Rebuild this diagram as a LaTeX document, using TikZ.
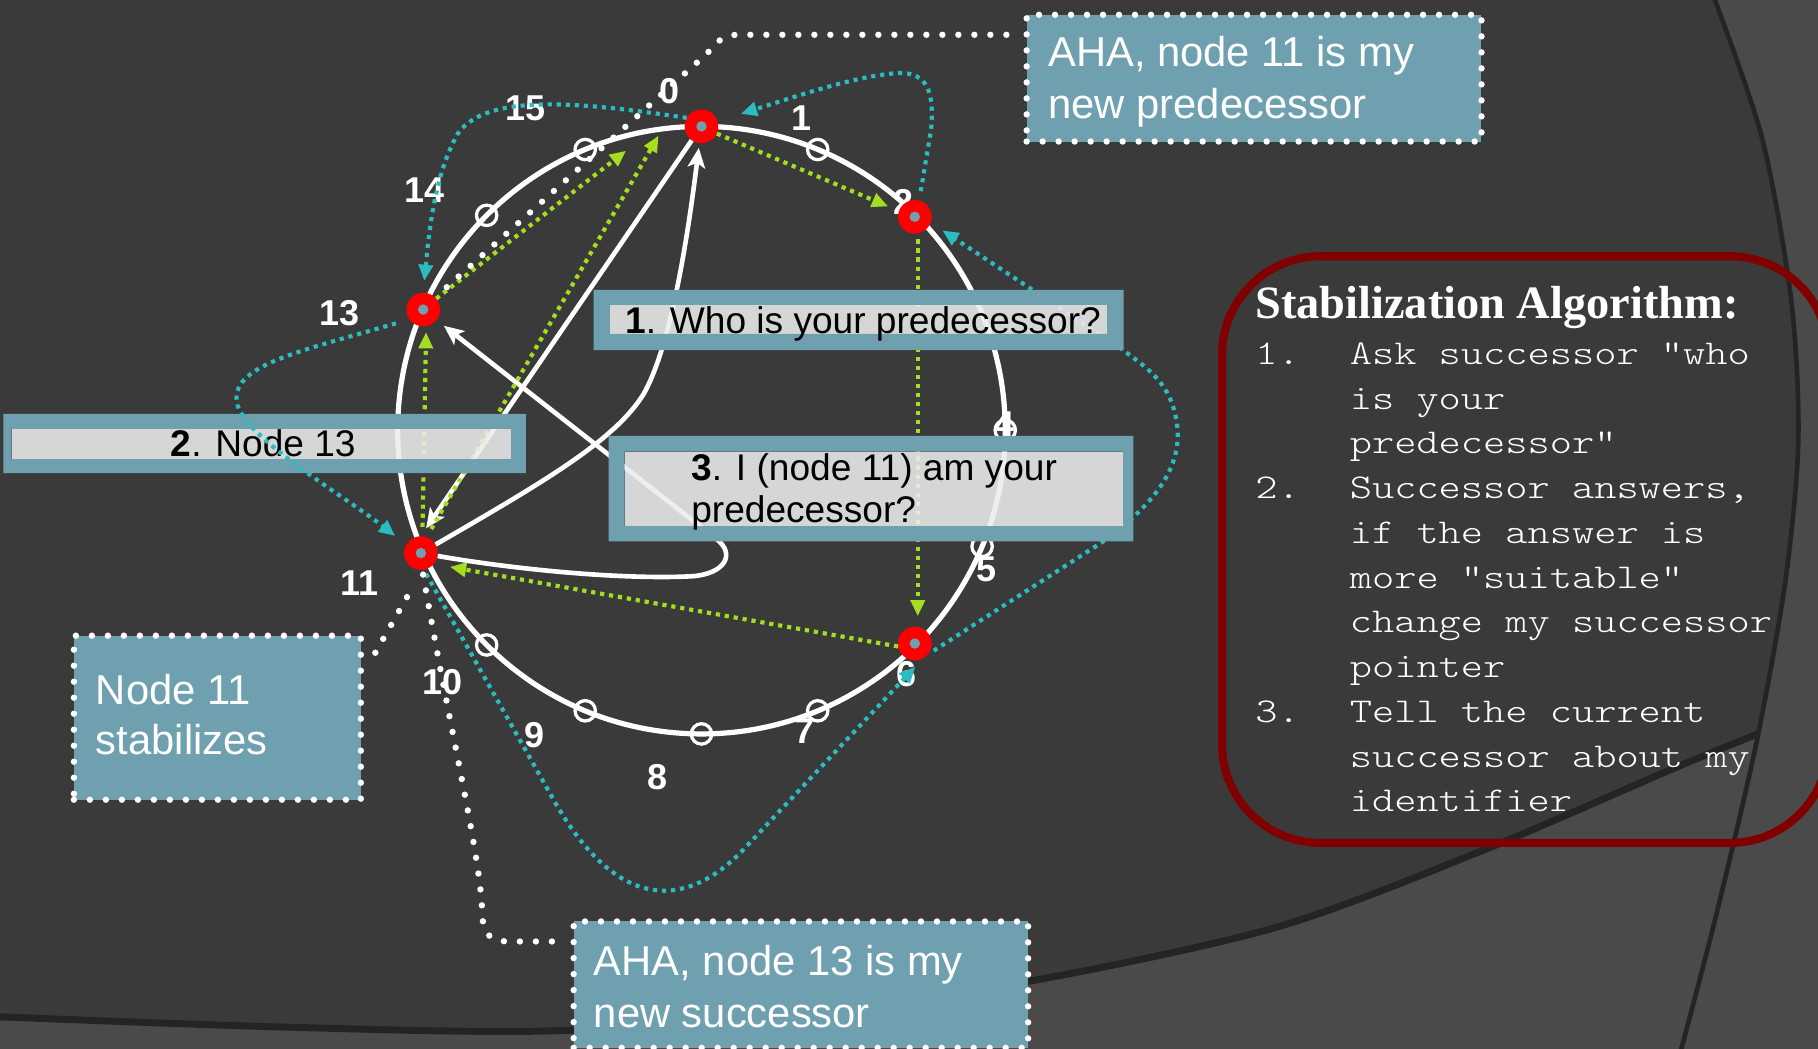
\documentclass[tikz,border=0pt]{standalone}
\usepackage{fontspec}
\usepackage{graphicx}
\setmainfont{Liberation Sans}
\newfontfamily\titlefont{Liberation Serif}
\usetikzlibrary{arrows.meta,calc}
\definecolor{bgc}{RGB}{58,58,58}
\definecolor{bgl}{RGB}{74,74,74}
\definecolor{bgline}{RGB}{36,36,36}
\definecolor{boxc}{RGB}{111,160,175}
\definecolor{grn}{RGB}{164,222,32}
\definecolor{tealc}{RGB}{42,188,190}
\definecolor{redb}{RGB}{128,0,0}
\definecolor{innerc}{RGB}{236,236,236}
\newcommand{\mtxt}[1]{\scalebox{1.217}[1]{#1}}
\tikzset{
 rn/.style={circle, fill=red, minimum size=29pt, inner sep=0pt,
   path picture={\fill[boxc] (path picture bounding box.center) circle[radius=4.5pt];}},
 mk/.style={draw=white, line width=2.8pt},
 lab/.style={text=white, font=\bfseries\fontsize{31}{31}\selectfont, inner sep=0pt},
 warrow/.style={draw=white, line width=4pt, -{Stealth[length=17pt,width=15pt,inset=4pt]}},
 gdot/.style={draw=grn, line width=3.6pt, dash pattern=on 3.6pt off 4.2pt, -{Triangle[length=14pt,width=12pt]}},
 tdot/.style={draw=tealc, line width=3.6pt, dash pattern=on 3.6pt off 4.2pt, -{Triangle[length=14pt,width=12pt]}},
 wdots/.style={draw=white, line width=5.5pt, dash pattern=on 0pt off 13.8pt, line cap=round},
 callout/.style={fill=boxc, draw=white, line width=5.5pt, dash pattern=on 0pt off 13.8pt, line cap=round, inner sep=0pt, anchor=north west},
 ctext/.style={text=white, font=\fontsize{36}{36}\selectfont, inner sep=0pt, anchor=base west},
 innerbox/.style={fill=innerc, fill opacity=0.88, inner sep=0pt, anchor=north west},
 btext/.style={text=black, font=\fontsize{32}{32}\selectfont, inner sep=0pt, anchor=base west},
 mono/.style={text=white, font=\ttfamily\fontseries{l}\fontsize{30}{30}\selectfont, inner sep=0pt, anchor=base west},
}
\begin{document}
\begin{tikzpicture}[x=1pt,y=-1pt]
\useasboundingbox (0,0) rectangle (1568,904.7);
% background
\fill[bgc] (0,0) rectangle (1568,904.7);
\fill[bgl] plot[smooth] coordinates {(0,877) (250,886) (480,889) (700,872) (884,847) (1100,800) (1280,733) (1450,660) (1568,612)} -- (1568,905) -- (0,905) -- cycle;
\draw[bgline, line width=6pt] plot[smooth] coordinates {(0,877) (250,886) (480,889) (700,872) (884,847) (1100,800) (1280,733) (1450,660) (1568,612)};
\fill[bgl] plot[smooth] coordinates {(1479,0) (1520,120) (1545,260) (1551,380) (1540,500) (1515,640) (1480,790) (1450,905)} -- (1568,905) -- (1568,0) -- cycle;
\draw[bgline, line width=4pt] plot[smooth] coordinates {(1479,0) (1520,120) (1545,260) (1551,380) (1540,500) (1515,640) (1480,790) (1450,905)};

% ring, markers, labels
\draw[white, line width=4.5pt] (605,371) circle[radius=262pt];
\foreach \k in {1,4,5,7,8,9,10,14,15}
  \draw[mk] ({605+262*cos(90-22.5*\k)},{371-262*sin(90-22.5*\k)}) circle[radius=8.8pt];
\node[lab] (l0) at (577,79) {0};
\node[lab] (l1) at (691,102) {1};
\node[lab] (l2) at (779,174) {2};
\node[lab] (l4) at (866,366) {4};
\node[lab] (l5) at (851,491) {5};
\node[lab] (l6) at (782,581) {6};
\node[lab] (l7) at (694,631) {7};
\node[lab] (l8) at (567,670) {8};
\node[lab] (l9) at (461,634) {9};
\node[lab] (l10) at (382,588) {10};
\node[lab] (l11) at (310,503) {11};
\node[lab] (l13) at (293,270) {13};
\node[lab] (l14) at (366,164) {14};
\node[lab] (l15) at (453,93) {15};

% red nodes
\node[rn] (n0) at (605,109) {};
\node[rn] (n2) at (789,187) {};
\node[rn] (n6) at (789,555) {};
\node[rn] (n11) at (363,477) {};
\node[rn] (n13) at (365,267) {};

% end points
\coordinate (g5e) at (540,130);
\coordinate (g6e) at (568,117);
\coordinate (w1s) at (868,30);
\coordinate (w2e) at (480,812);
\coordinate (w3s) at (351,515);
\coordinate (w3e) at (322,566);

% white arrows
\draw[warrow, shorten >=4pt] (n11) .. controls (470,415) and (530,380) .. (555,340) .. controls (575,305) and (590,230) .. (n0);
\draw[warrow, shorten >=8pt] (n0.235) -- (n11.north);
\draw[warrow, shorten >=8pt] (n11.-10) .. controls (450,492) and (540,500) .. (597,497) .. controls (625,495) and (635,478) .. (618,465) -- (n13);

% green successor pointers
\draw[gdot, shorten >=10pt] (n0.-25) -- (n2.160);
\draw[gdot, shorten <=5pt, shorten >=9pt] (n2.-80) -- (n6.80);
\draw[gdot, shorten >=14pt] (n6.190) -- (n11.-40);
\draw[gdot, shorten <=8pt, shorten >=5pt] (n11.85) -- (n13.-80);
\draw[gdot] (n13.40) -- (g5e);
\draw[gdot, shorten <=8pt] (n11.70) -- (g6e);

% teal predecessor pointers
\draw[tdot, shorten >=10pt] (n0.150) .. controls (500,88) and (420,80) .. (395,115) .. controls (375,150) and (370,200) .. (n13.north);
\draw[tdot, shorten <=8pt, shorten >=21pt] (n2.75) -- (803,112) .. controls (806,80) and (800,62) .. (775,63) .. controls (740,65) and (690,82) .. (n0);
\draw[tdot, shorten <=6pt, shorten >=12pt] (n6.-40) -- (950,468) .. controls (1000,432) and (1020,400) .. (1015,365) .. controls (1010,330) and (990,318) .. (966,300) -- (n2.-20);
\draw[tdot, shorten <=4pt, shorten >=10pt] (n11.-80) -- (477,689) .. controls (542,804) and (605,770) .. (640,734) -- (n6.-60);

% white dotted callout connectors
\draw[wdots, shorten >=10pt] (w1s) -- (635,30) .. controls (622,30) and (615,40) .. (610,46) -- (n13.45);
\draw[wdots, shorten <=4pt] (n11.-85) .. controls (390,640) and (415,740) .. (416,790) .. controls (417,808) and (425,812) .. (440,812) -- (w2e);
\draw[wdots] (w3s) -- (w3e);

% message boxes
\node[innerbox, minimum width=428.5pt, minimum height=24.5pt] (q1) at (526,263) {};
\fill[boxc, even odd rule] (512,250) rectangle (969,302) (q1.south west) rectangle (q1.north east);
\node[btext] (q1t) at (539,287.5) {{\bfseries 1}. Who is your predecessor?};

\node[innerbox, minimum width=430.5pt, minimum height=25.5pt] (q2) at (10,370) {};
\fill[boxc, even odd rule] (3,357) rectangle (453.5,408) (q2.south west) rectangle (q2.north east);
\node[btext] (q2t) at (147,394) {{\bfseries 2}. Node 13};

\node[innerbox, minimum width=429.6pt, minimum height=63.8pt] (q3) at (538.7,389.6) {};
\fill[boxc, even odd rule] (525,376) rectangle (977.5,467) (q3.south west) rectangle (q3.north east);
\node[btext] (q3a) at (596,414) {{\bfseries 3}. I (node 11) am your};
\node[btext] (q3b) at (596,451) {predecessor?};

% teal pointer drawn over box 2
\draw[tdot, shorten <=12pt, shorten >=12pt] (n13.215) .. controls (260,303) and (195,315) .. (205,350) .. controls (215,380) and (300,430) .. (n11.150);

% callouts
\node[callout, minimum width=392.3pt, minimum height=109.3pt] (b1) at (882.7,10) {};
\node[ctext] (b1a) at (904,57.5) {AHA, node 11 is my};
\node[ctext] (b1b) at (904,102) {new predecessor};
\node[callout, minimum width=392pt, minimum height=109pt] (b2) at (492,792) {};
\node[ctext] (b2a) at (512,841) {AHA, node 13 is my};
\node[ctext] (b2b) at (512,886) {new successor};
\node[callout, minimum width=247.5pt, minimum height=141.5pt] (b3) at (61,545.5) {};
\node[ctext] (b3a) at (82.5,608) {Node 11};
\node[ctext] (b3b) at (82.5,651) {stabilizes};

% algorithm panel
\draw[redb, line width=7pt, rounded corners=85pt] (1054,221) rectangle (1577,727);
\node[text=white, font=\titlefont\bfseries\fontsize{40}{40}\selectfont, inner sep=0pt, anchor=base west] (title) at (1082.5,275) {Stabilization Algorithm:};
\node[mono] (m1) at (1082.5,314.2) {\mtxt{1.}};
\node[mono] (m2) at (1082.5,430) {\mtxt{2.}};
\node[mono] (m3) at (1082.5,623) {\mtxt{3.}};
\node[mono] (t0) at (1164,314.2) {\mtxt{Ask successor ”who}};
\node[mono] (t1) at (1164,352.8) {\mtxt{is your}};
\node[mono] (t2) at (1164,391.4) {\mtxt{predecessor”}};
\node[mono] (t3) at (1164,430) {\mtxt{Successor answers,}};
\node[mono] (t4) at (1164,468.6) {\mtxt{if the answer is}};
\node[mono] (t5) at (1164,507.2) {\mtxt{more ”suitable”}};
\node[mono] (t6) at (1164,545.8) {\mtxt{change my successor}};
\node[mono] (t7) at (1164,584.4) {\mtxt{pointer}};
\node[mono] (t8) at (1164,623) {\mtxt{Tell the current}};
\node[mono] (t9) at (1164,661.6) {\mtxt{successor about my}};
\node[mono] (t10) at (1164,700.2) {\mtxt{identifier}};
\end{tikzpicture}
\end{document}
